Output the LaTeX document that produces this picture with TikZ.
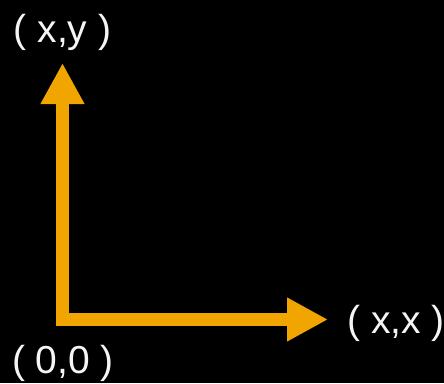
\documentclass[tikz,border=0pt]{standalone}
\usepackage{fontspec}
\setmainfont{Liberation Sans}
\usetikzlibrary{arrows.meta}
\definecolor{axisorange}{RGB}{240,165,0}
\definecolor{labelwhite}{RGB}{245,245,245}

\begin{document}
\begin{tikzpicture}[x=1pt, y=-1pt, font=\fontsize{39}{46}\selectfont]
% geometry: picture in px (444 x 383), y runs downward
\tikzset{
  axis/.style={axisorange, line width=13pt, line cap=rect,
    -{Triangle[length=41pt, width=41pt]}},
  coordlabel/.style={text=labelwhite, inner sep=0pt}
}

% ---- background ----
\fill[black] (0,0) rectangle (444,383);
\useasboundingbox (0,0) rectangle (444,383);

% ---- axis end points ----
\coordinate (origin) at (62.5,319.5);
\coordinate (ytip) at (62.5,63);
\coordinate (xtip) at (328,319.5);

% ---- axes ----
\draw[axis] (origin) -- (ytip);
\draw[axis] (origin) -- (xtip);

% ---- labels ----
\node[coordlabel] (lblxy) at (62.5,32) {( x,y )};
\node[coordlabel] (lbl00) at (63,363) {( 0,0 )};
\node[coordlabel] (lblxx) at (396,323) {( x,x )};
\end{tikzpicture}
\end{document}
